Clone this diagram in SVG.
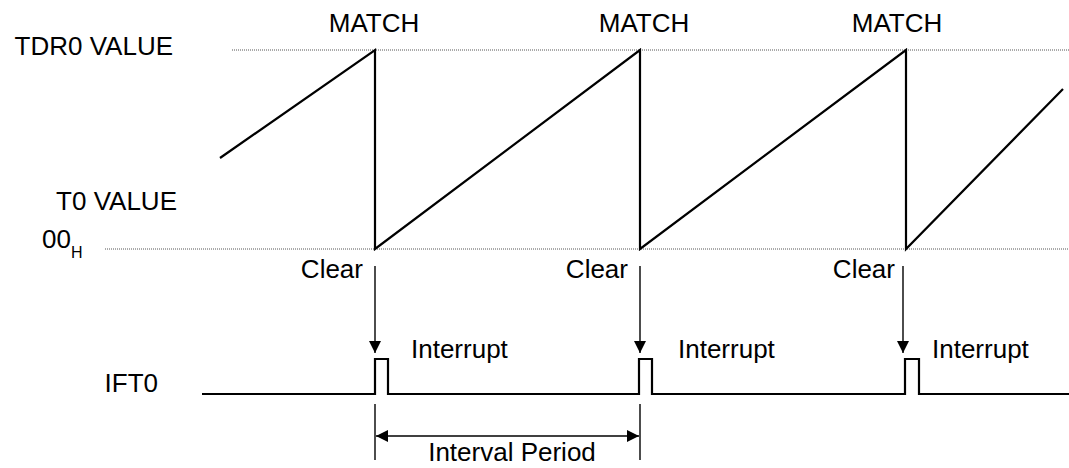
<svg xmlns="http://www.w3.org/2000/svg" width="1069" height="468" viewBox="0 0 1069 468">
<defs>
<style>
text{font-family:"Liberation Sans",Arial,sans-serif;font-size:26px;fill:#000}
.dot{stroke:#555;stroke-width:1;stroke-dasharray:1 1;fill:none}
.wave{stroke:#000;stroke-width:2.2;fill:none;stroke-linejoin:miter}
.thin{stroke:#000;stroke-width:1.4;fill:none}
</style>
<marker id="ah" viewBox="0 0 12 12" markerWidth="12" markerHeight="12" refX="12" refY="6" orient="auto" markerUnits="userSpaceOnUse">
<path d="M0,0 L12,6 L0,12 Z" fill="#000"/>
</marker>
<marker id="ahs" viewBox="0 0 12 12" markerWidth="12" markerHeight="12" refX="0" refY="6" orient="auto" markerUnits="userSpaceOnUse">
<path d="M12,0 L0,6 L12,12 Z" fill="#000"/>
</marker>
</defs>
<rect width="1069" height="468" fill="#fff"/>
<g id="labels">
<text x="173" y="55" text-anchor="end">TDR0 VALUE</text>
<text x="177" y="210" text-anchor="end">T0 VALUE</text>
<text x="42" y="248">00<tspan font-size="16" dy="10">H</tspan></text>
<text x="158" y="392" text-anchor="end">IFT0</text>
<text x="374" y="32" text-anchor="middle">MATCH</text>
<text x="644" y="32" text-anchor="middle">MATCH</text>
<text x="897" y="32" text-anchor="middle">MATCH</text>
</g>
<g id="grid">
<line class="dot" x1="232" y1="50" x2="1069" y2="50"/>
<line class="dot" x1="105" y1="249" x2="1069" y2="249"/>
</g>
<g id="counter">
<polyline class="wave" points="220,158 375,50 375,249 640,50 640,249 906,50 906,249 1063,89"/>
</g>
<g id="ift0">
<polyline class="wave" points="202,394 375,394 375,359 388,359 388,394 639,394 639,359 652,359 652,394 905,394 905,359 919,359 919,394 1069,394"/>
</g>
<g id="connectors">
<line class="thin" x1="375" y1="266" x2="375" y2="353" marker-end="url(#ah)"/>
<line class="thin" x1="640" y1="266" x2="640" y2="353" marker-end="url(#ah)"/>
<line class="thin" x1="903" y1="266" x2="903" y2="353" marker-end="url(#ah)"/>
<line class="thin" x1="375" y1="404" x2="375" y2="460"/>
<line class="thin" x1="640" y1="404" x2="640" y2="460"/>
<line class="thin" x1="376" y1="436" x2="639" y2="436" marker-start="url(#ahs)" marker-end="url(#ah)"/>
</g>
<g id="clear1"><text x="363" y="278" text-anchor="end">Clear</text></g>
<g id="clear2"><text x="628" y="278" text-anchor="end">Clear</text></g>
<g id="clear3"><text x="895" y="278" text-anchor="end">Clear</text></g>
<g id="int1"><text x="411" y="358">Interrupt</text></g>
<g id="int2"><text x="678" y="358">Interrupt</text></g>
<g id="int3"><text x="932" y="358">Interrupt</text></g>
<g id="interval"><text x="512" y="461" text-anchor="middle">Interval Period</text></g>
</svg>
